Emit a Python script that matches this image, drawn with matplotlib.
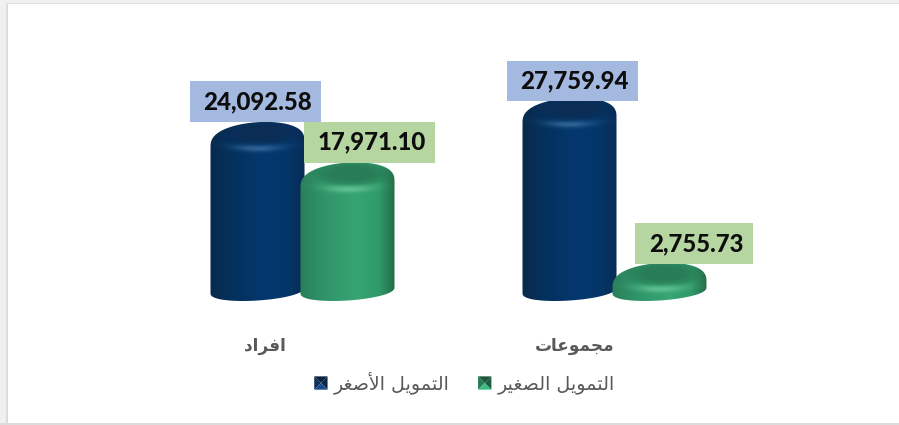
import numpy as np
import matplotlib
matplotlib.use("Agg")
import matplotlib.pyplot as plt
from matplotlib.legend_handler import HandlerBase
from matplotlib.patches import Patch, PathPatch, Polygon, Rectangle
from matplotlib.path import Path
from matplotlib.transforms import ScaledTranslation

categories = ["افراد", "مجموعات"]
series_names = ["التمويل الأصغر", "التمويل الصغير"]
values_azghar = [24092.58, 27759.94]
values_saghir = [17971.10, 2755.73]

W, H = 899, 425
AX_TOP, AX_BOTTOM = 50, 320
PX_PER_UNIT = 0.0066
ZERO_PX = 281.2

FORMS = {
    "ا": (0xFE8D, 0xFE8E), "أ": (0xFE83, 0xFE84), "د": (0xFEA9, 0xFEAA),
    "ر": (0xFEAD, 0xFEAE), "و": (0xFEED, 0xFEEE),
    "ف": (0xFED1, 0xFED2, 0xFED3, 0xFED4), "ج": (0xFE9D, 0xFE9E, 0xFE9F, 0xFEA0),
    "م": (0xFEE1, 0xFEE2, 0xFEE3, 0xFEE4), "ع": (0xFEC9, 0xFECA, 0xFECB, 0xFECC),
    "ت": (0xFE95, 0xFE96, 0xFE97, 0xFE98), "ل": (0xFEDD, 0xFEDE, 0xFEDF, 0xFEE0),
    "ي": (0xFEF1, 0xFEF2, 0xFEF3, 0xFEF4), "ص": (0xFEB9, 0xFEBA, 0xFEBB, 0xFEBC),
    "غ": (0xFECD, 0xFECE, 0xFECF, 0xFED0),
}
LAM_ALEF = {"ا": (0xFEFB, 0xFEFC), "أ": (0xFEF7, 0xFEF8)}


def shape(text):
    # matplotlib does no arabic shaping, so pick the joined glyphs and flip the order
    out = []
    prev_joins = False
    i = 0
    while i < len(text):
        c = text[i]
        if c not in FORMS:
            out.append(c)
            prev_joins = False
            i += 1
            continue
        if c == "ل" and i + 1 < len(text) and text[i + 1] in LAM_ALEF:
            out.append(chr(LAM_ALEF[text[i + 1]][1 if prev_joins else 0]))
            prev_joins = False
            i += 2
            continue
        forms = FORMS[c]
        nxt = text[i + 1] if i + 1 < len(text) else " "
        next_ok = len(forms) == 4 and nxt in FORMS
        if len(forms) == 2:
            out.append(chr(forms[1 if prev_joins else 0]))
        elif prev_joins and next_ok:
            out.append(chr(forms[3]))
        elif prev_joins:
            out.append(chr(forms[1]))
        elif next_ok:
            out.append(chr(forms[2]))
        else:
            out.append(chr(forms[0]))
        prev_joins = next_ok
        i += 1
    return "".join(reversed(out))


def val_y(px):
    return (ZERO_PX - px) / PX_PER_UNIT


BLUE = {"stops": ["#0a2a4e", "#03325f", "#04386f", "#033567", "#0a2b55"],
        "cap": "#0b2d55", "shine": "#2f6496"}
GREEN = {"stops": ["#2a7f59", "#30966a", "#37a573", "#309a6a", "#246b45"],
         "cap": "#287c56", "shine": "#5fc093"}


def rgb(c):
    return np.array(matplotlib.colors.to_rgb(c))


def cylinder(ax, xc, value, pal, zorder):
    half_w = 47
    top = ZERO_PX - value * PX_PER_UNIT
    bottom = 300.5
    cx = ax.transData.transform((xc, 0))[0]
    # silhouette, worked out in pixels from the value's top edge
    t = np.linspace(0, np.pi, 60)
    rise = min(19, (bottom - top) * 0.5)
    top_x = cx + half_w * np.cos(t)
    top_y = top + 3 + rise - (rise + 3) * np.sin(t) ** 0.75 - 3 * np.cos(t)
    low_x = cx - half_w * np.cos(t)
    low_rise = min(10, (bottom - top) * 0.4)
    low_y = bottom - low_rise + low_rise * np.sin(t) ** 0.9 + 3 * np.cos(t)
    px = np.r_[top_x, low_x]
    py = np.r_[top_y, low_y]
    inv = ax.transData.inverted()
    verts = np.column_stack([inv.transform(np.column_stack([px, np.zeros_like(px)]))[:, 0],
                             val_y(py)])
    clip = PathPatch(Path(np.r_[verts, verts[:1]], closed=True), fc="none", ec="none",
                     transform=ax.transData)
    ax.add_patch(clip)

    # shading image
    ny = int(bottom - top) + 6
    nx = 2 * half_w + 2
    uu = np.linspace(-1, 1, nx)
    yy = np.linspace(top - 3, bottom + 3, ny)
    U, Y = np.meshgrid(uu, yy)
    stops = np.array([rgb(c) for c in pal["stops"]])
    pos = [-1, -0.45, 0.2, 0.65, 1]
    img = np.dstack([np.interp(U, pos, stops[:, k]) for k in range(3)])
    d = ((U - 0.08) / 0.75) ** 2 + ((Y - (top + 11)) / 12) ** 2
    a = np.clip(1.25 - d, 0, 1)[..., None] ** 0.7
    img = img * (1 - a) + rgb(pal["cap"]) * a
    arc = Y - (top + 27 - 5 * U ** 2)
    s = np.exp(-(arc / 3.2) ** 2 - (U / 0.5) ** 2)[..., None]
    img = img * (1 - s) + rgb(pal["shine"]) * s
    x0, x1 = inv.transform([(cx - half_w - 1, 0), (cx + half_w + 1, 0)])[:, 0]
    im = ax.imshow(img, extent=[x0, x1, val_y(bottom + 3), val_y(top - 3)], origin="upper",
                   aspect="auto", interpolation="bilinear", zorder=zorder)
    im.set_clip_path(clip)


class BevelHandler(HandlerBase):
    def create_artists(self, legend, orig, xd, yd, width, height, fontsize, trans):
        c = orig.get_facecolor()
        side = min(width, height)
        x0, y0 = -xd + (width - side), -yd
        x1, y1 = x0 + side, y0 + side
        m = (x0 + side / 2, y0 + side / 2)
        base = np.array(c[:3])
        tris = [
            ([(x0, y1), (x1, y1), m], base * 0.6),
            ([(x0, y0), (x0, y1), m], base * 0.85),
            ([(x1, y0), (x1, y1), m], base * 0.65),
            ([(x0, y0), (x1, y0), m], np.clip(base * 1.3, 0, 1)),
        ]
        return [Polygon(p, closed=True, fc=col, ec="none", transform=trans) for p, col in tris]


fig = plt.figure(figsize=(W / 100, H / 100), dpi=100, facecolor="white")
fig.patches.extend([
    Rectangle((0, 1 - 3 / H), 1, 3 / H, transform=fig.transFigure, fc="#f0f0f0", ec="none"),
    Rectangle((0, 0), 6 / W, 1, transform=fig.transFigure, fc="#f0f0f0", ec="none"),
    Rectangle((6 / W, 0), 1.5 / W, 1 - 3 / H, transform=fig.transFigure, fc="#dcdcdc", ec="none"),
    Rectangle((6 / W, 1 - 4 / H), 1, 1 / H, transform=fig.transFigure, fc="#e2e2e2", ec="none"),
    Rectangle((0, 0), 1, 2 / H, transform=fig.transFigure, fc="#dcdcdc", ec="none"),
])

ax = fig.add_axes([0, (H - AX_BOTTOM) / H, 1, (AX_BOTTOM - AX_TOP) / H])
ax.patch.set_alpha(0)
ax.set_xlim(-302.5 / 312, (W - 302.5) / 312)
ax.set_ylim(val_y(AX_BOTTOM), val_y(AX_TOP))
xlim, ylim = ax.get_xlim(), ax.get_ylim()
for s in ax.spines.values():
    s.set_visible(False)
ax.set_yticks([])
x = np.arange(len(categories))
ax.set_xticks(x)
ax.set_xticklabels([shape(c) for c in categories], fontsize=12.2, fontweight="bold",
                   color="#595959", family="DejaVu Sans")
ax.tick_params(axis="x", length=0, pad=12)
for lab, dx in zip(ax.get_xticklabels(), [-37.5, -39.5]):
    lab.set_transform(lab.get_transform() + ScaledTranslation(dx / 100, 0, fig.dpi_scale_trans))

bar_off = 45 / 312
for i in x:
    cylinder(ax, i - bar_off, values_azghar[i], BLUE, 3)
for i in x:
    cylinder(ax, i + bar_off, values_saghir[i], GREEN, 4)
ax.set_xlim(xlim)
ax.set_ylim(ylim)

# label boxes: (left offset from the bar centre, box width, lift of the box) in pixels
box_azghar = [(-68, 131, 0), (-63, 131, -3.5)]
box_saghir = [(-43.5, 131, 0), (-25, 118, -1)]


def value_box(xc, value, place, color):
    off, w, lift = place
    cx = ax.transData.transform((xc, 0))[0]
    base = ZERO_PX - value * PX_PER_UNIT - lift
    inv = ax.transData.inverted()
    x0, x1 = inv.transform([(cx + off, 0), (cx + off + w, 0)])[:, 0]
    ax.add_patch(Rectangle((x0, val_y(base)), x1 - x0, 40.7 / PX_PER_UNIT, fc=color, ec="none", zorder=6))
    ax.text((x0 + x1) / 2 + 2.5 / 312, val_y(base - 20.5), f"{value:,.2f}", ha="center",
            va="center", fontsize=17.3, fontweight=900, family="Lato", color="#0d0d0d", zorder=7)


for i in x:
    value_box(i - bar_off, values_azghar[i], box_azghar[i], "#a4b9e0")
    value_box(i + bar_off, values_saghir[i], box_saghir[i], "#b5d5a1")

handles = [Patch(facecolor="#123a6b"), Patch(facecolor="#2f8f63")]
leg = fig.legend(handles, [shape(n) for n in series_names], ncol=2, frameon=False,
                 loc="center", bbox_to_anchor=(464 / W, (H - 383) / H),
                 prop={"family": "DejaVu Sans", "size": 13.7},
                 labelcolor="#595959", handler_map={Patch: BevelHandler()},
                 handlelength=0.75, handletextpad=0.32, columnspacing=1.45)

fig.savefig("out.png", dpi=100, facecolor="white")
